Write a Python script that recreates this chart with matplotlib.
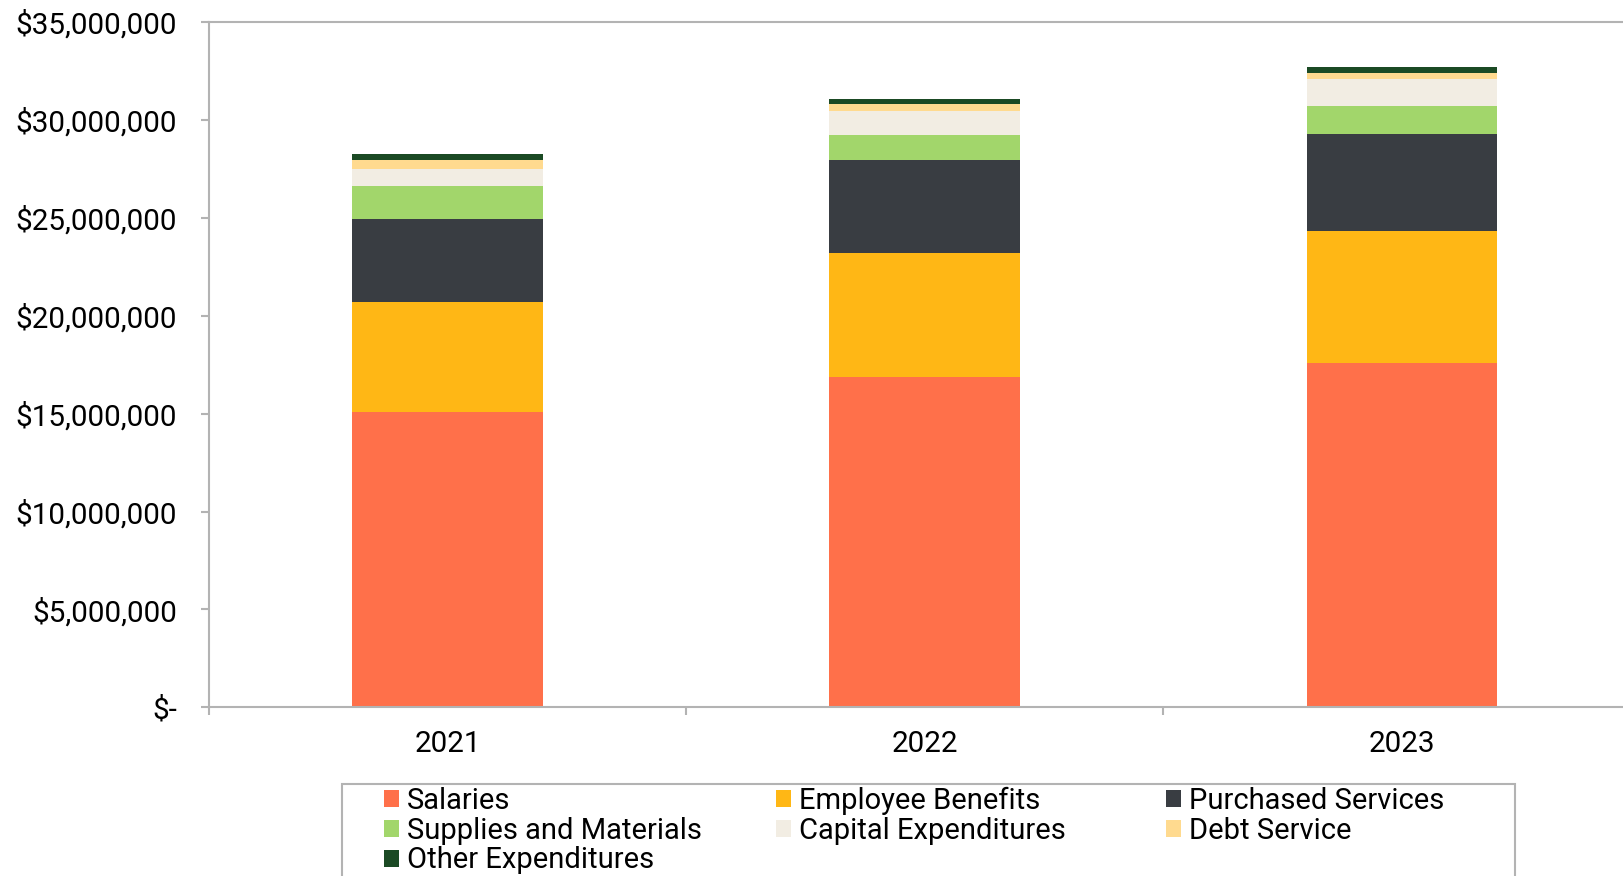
import matplotlib.pyplot as plt
import matplotlib.patches as mpatches
from matplotlib.ticker import FuncFormatter, FixedLocator
import numpy as np

plt.rcParams['font.family'] = ['Roboto', 'DejaVu Sans']

# data (dollars)
years = ['2021', '2022', '2023']
categories = ['Salaries', 'Employee Benefits', 'Purchased Services',
              'Supplies and Materials', 'Capital Expenditures', 'Debt Service',
              'Other Expenditures']
salaries = [15070000, 16860000, 17590000]
benefits = [5650000, 6370000, 6730000]
purchased = [4210000, 4750000, 4970000]
supplies = [1710000, 1250000, 1450000]
capital = [870000, 1250000, 1360000]
debt = [460000, 350000, 310000]
other = [290000, 270000, 310000]

colors = ['#FF704A', '#FFB715', '#393D42', '#A2D66B', '#F2EDE3', '#FFDA8F', '#1B4A24']
series = [salaries, benefits, purchased, supplies, capital, debt, other]

fig = plt.figure(figsize=(16.24, 8.76), dpi=100)
ax = fig.add_axes([0.1287, 0.1926, 0.8815, 0.7819])

x = np.arange(len(years))
bottom = np.zeros(len(years))
handles = []
for vals, c, name in zip(series, colors, categories):
    b = ax.bar(x, vals, width=0.4, bottom=bottom, color=c, label=name, linewidth=0)
    bottom += np.array(vals)
    handles.append(b)

ax.set_xlim(-0.5, 2.5)
ax.set_ylim(0, 35000000)
ax.set_yticks(np.arange(0, 35000001, 5000000))

def money(v, pos):
    if v == 0:
        return '$-'
    return '${:,.0f}'.format(v)

ax.yaxis.set_major_formatter(FuncFormatter(money))
ax.set_xticks(x)
ax.set_xticklabels(years)
ax.xaxis.set_minor_locator(FixedLocator([-0.5, 0.5, 1.5, 2.5]))

gray = '#b3b3b3'
for s in ['left', 'bottom', 'top']:
    ax.spines[s].set_color(gray)
    ax.spines[s].set_linewidth(1.5)
ax.spines['right'].set_visible(False)

ax.tick_params(axis='y', length=6, width=1.5, color=gray, pad=17, labelsize=21.3)
ax.tick_params(axis='x', which='major', length=0, pad=16, labelsize=21.3)
ax.tick_params(axis='x', which='minor', length=6, width=1.5, color=gray)

# legend frame
frame = mpatches.Rectangle((342 / 1624, -0.05), (1515 - 342) / 1624, 0.05 + (876 - 784) / 876,
                           transform=fig.transFigure, fill=False, edgecolor=gray,
                           linewidth=1.5)
fig.patches.append(frame)

# three legend columns, equal spacing as in the original
col_x = [384, 776, 1166]
for i, cx in enumerate(col_x):
    hs = handles[i::3]
    labs = categories[i::3]
    leg = fig.legend(hs, labs, loc='upper left',
                     bbox_to_anchor=(cx / 1624, 1 - 787 / 876),
                     frameon=False, fontsize=21, handlelength=0.52, handleheight=0.52,
                     handletextpad=0.27, labelspacing=0.06, borderpad=0, borderaxespad=0)

fig.savefig('out.png', dpi=100)
